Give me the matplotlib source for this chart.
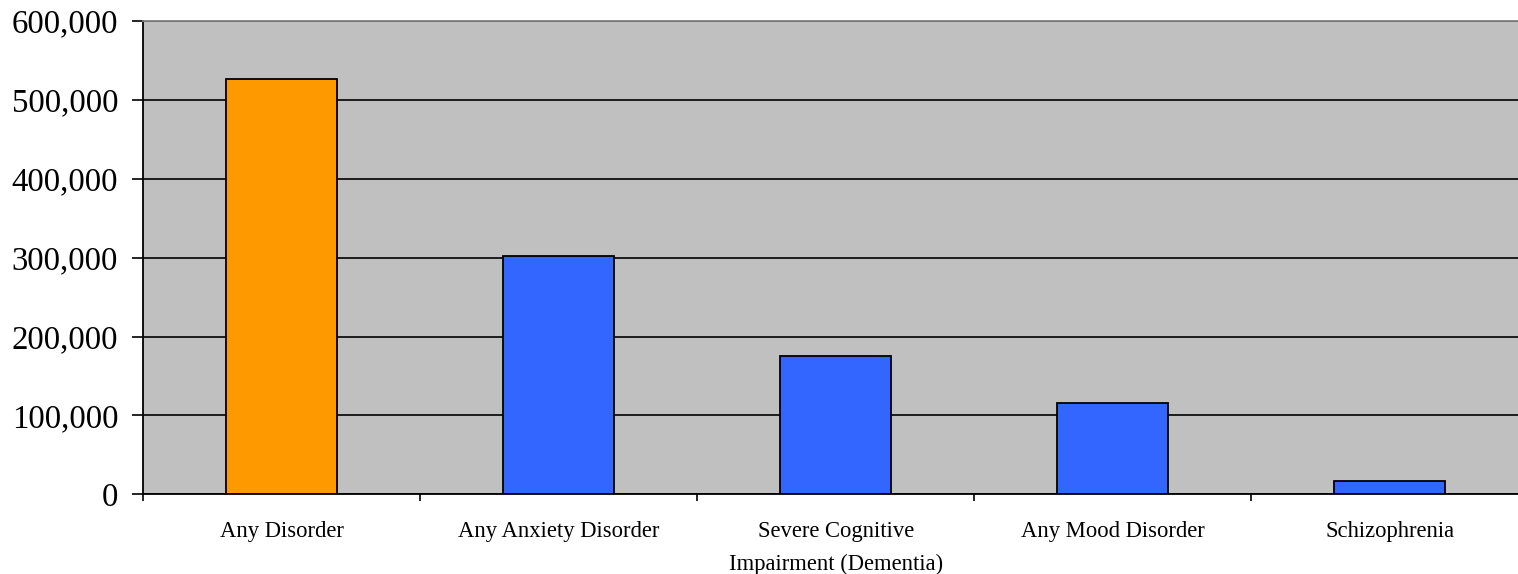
import matplotlib
matplotlib.use("Agg")
import matplotlib.pyplot as plt
import numpy as np
from matplotlib.ticker import FuncFormatter, FixedLocator

categories = ["Any Disorder", "Any Anxiety Disorder",
              "Severe Cognitive\nImpairment (Dementia)",
              "Any Mood Disorder", "Schizophrenia"]
values = [527000, 302000, 175000, 116000, 16500]
bar_colors = ["#FF9900", "#3366FF", "#3366FF", "#3366FF", "#3366FF"]
y_ticks = [0, 100000, 200000, 300000, 400000, 500000, 600000]

plt.rcParams["font.family"] = ["Liberation Serif", "DejaVu Serif"]

fig = plt.figure(figsize=(15.18, 5.74), dpi=100)
ax = fig.add_axes([0.0943, 0.1388, 0.9124, 0.8246])
ax.set_facecolor("#C0C0C0")

x = np.arange(len(categories))
ax.bar(x, values, width=0.4, color=bar_colors, edgecolor="black",
       linewidth=1.3, zorder=3)

ax.set_xlim(-0.5, len(categories) - 0.5)
ax.set_ylim(0, 600000)
ax.set_yticks(y_ticks)
ax.yaxis.set_major_formatter(FuncFormatter(lambda v, p: f"{int(v):,}"))
ax.yaxis.grid(True, color="black", linewidth=1.2, zorder=1)
ax.set_axisbelow(True)

# category boundaries as major ticks, names centred under bars
ax.xaxis.set_major_locator(FixedLocator(np.arange(-0.5, len(categories), 1.0)))
ax.xaxis.set_minor_locator(FixedLocator(x))
ax.xaxis.set_major_formatter(FuncFormatter(lambda v, p: ""))
ax.set_xticks(x, categories, minor=True)
ax.tick_params(axis="x", which="major", length=5, width=1.2, color="black")
ax.tick_params(axis="x", which="minor", length=0, pad=19, labelsize=16.3)
for lbl in ax.get_xticklabels(minor=True):
    lbl.set_linespacing(1.75)
    lbl.set_verticalalignment("top")

ax.tick_params(axis="y", length=8, width=1.2, pad=10, labelsize=23.6)

for s in ("left", "bottom"):
    ax.spines[s].set_color("black")
    ax.spines[s].set_linewidth(1.3)
ax.spines["top"].set_color("#808080")
ax.spines["top"].set_linewidth(1.3)
ax.spines["right"].set_visible(False)

fig.savefig("out.png", dpi=100)
